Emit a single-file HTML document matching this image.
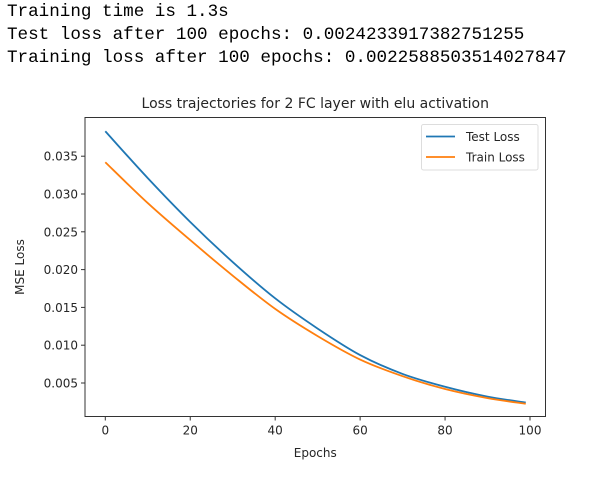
<!DOCTYPE html>
<html><head><meta charset="utf-8"><style>
body{margin:0;background:#fff;width:612px;height:480px;overflow:hidden;position:relative}
.hdr{position:absolute;left:7px;font-family:"Liberation Mono",monospace;font-size:17.6px;color:#000;white-space:pre}
svg{position:absolute;left:0;top:0}
text{font-family:"DejaVu Sans","Liberation Sans",sans-serif;fill:#262626}
</style></head><body>
<div class="hdr" style="top:2px">Training time is 1.3s</div>
<div class="hdr" style="top:25px">Test loss after 100 epochs: 0.0024233917382751255</div>
<div class="hdr" style="top:48px">Training loss after 100 epochs: 0.0022588503514027847</div>
<svg id="chart" width="612" height="480"></svg>
<script>
const epochs=[0,10,20,30,40,50,60,70,80,90,99];
const testLoss=[0.0383,0.0321,0.0263,0.0210,0.0162,0.0122,0.0087,0.0062,0.0045,0.0032,0.00242];
const trainLoss=[0.0342,0.0288,0.0239,0.0192,0.0148,0.0112,0.0081,0.0059,0.0042,0.0030,0.00226];
const xTicks=[0,20,40,60,80,100];
const yTicks=[0.005,0.010,0.015,0.020,0.025,0.030,0.035];
const yTickLabels=["0.005","0.010","0.015","0.020","0.025","0.030","0.035"];
const seriesNames=["Test Loss","Train Loss"];
const colors=["#1f77b4","#ff7f0e"];
const L=85,R=545.5,T=117.5,B=416.5;
const xs=v=>105.3+v*(530-105.3)/100;
const ys=v=>383-(v-0.005)/0.005*37.8;
const svg=document.getElementById('chart');
const NS='http://www.w3.org/2000/svg';
function mk(tag,attrs,parent){const e=document.createElementNS(NS,tag);for(const k in attrs)e.setAttribute(k,attrs[k]);(parent||svg).appendChild(e);return e;}
// axes frame
let fr=mk('rect',{x:L,y:T,width:R-L,height:B-T,fill:'none',stroke:'#333',"stroke-width":1});


let t=mk('text',{x:(L+R)/2,y:108,"text-anchor":"middle","font-size":"14"});t.textContent='Loss trajectories for 2 FC layer with elu activation';


xTicks.forEach(v=>{const x=xs(v);mk('line',{x1:x,x2:x,y1:B,y2:B+4,stroke:'#333'});
 const tx=mk('text',{x:x,y:B+18,"text-anchor":"middle","font-size":"12"});tx.textContent=v;
 
 });
yTicks.forEach((v,i)=>{const y=ys(v);mk('line',{x1:L-4,x2:L,y1:y,y2:y,stroke:'#333'});
 const tx=mk('text',{x:L-7,y:y+4.5,"text-anchor":"end","font-size":"12"});tx.textContent=yTickLabels[i];
 
 });
let xl=mk('text',{x:(L+R)/2,y:457,"text-anchor":"middle","font-size":"12"});xl.textContent='Epochs';


let yl=mk('text',{x:0,y:0,"text-anchor":"middle","font-size":"12",transform:`translate(24,${(T+B)/2}) rotate(-90)`});yl.textContent='MSE Loss';


function pathFor(vals){
 const p=epochs.map((e,i)=>[xs(e),ys(vals[i])]);
 let d='M'+p[0][0]+','+p[0][1];
 for(let i=0;i<p.length-1;i++){
  const p0=p[Math.max(0,i-1)],p1=p[i],p2=p[i+1],p3=p[Math.min(p.length-1,i+2)];
  const c1=[p1[0]+(p2[0]-p0[0])/6,p1[1]+(p2[1]-p0[1])/6];
  const c2=[p2[0]-(p3[0]-p1[0])/6,p2[1]-(p3[1]-p1[1])/6];
  d+=` C${c1[0]},${c1[1]} ${c2[0]},${c2[1]} ${p2[0]},${p2[1]}`;
 }
 return d;
}
[testLoss,trainLoss].forEach((vals,i)=>{
 const pth=mk('path',{d:pathFor(vals),fill:'none',stroke:colors[i],"stroke-width":1.8});
 
 
});
// legend
const lg=mk('g',{});


mk('rect',{x:421.5,y:124.5,width:116.5,height:45.5,rx:2,fill:'#fff',stroke:'#ddd'},lg);
seriesNames.forEach((n,i)=>{const y=136.5+i*20.5;
 mk('line',{x1:426,x2:455,y1:y,y2:y,stroke:colors[i],"stroke-width":1.8},lg);
 const tx=mk('text',{x:466,y:y+4.5,"font-size":"12"},lg);tx.textContent=n;
 
 });
</script>
</body></html>
